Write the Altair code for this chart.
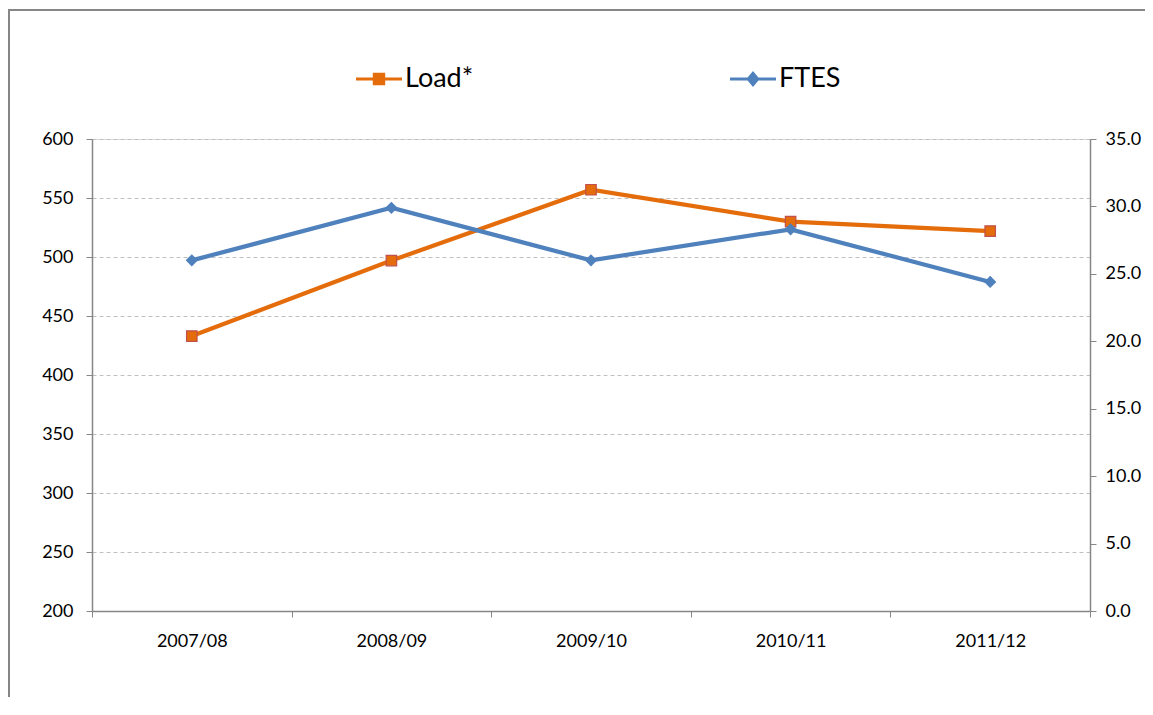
import altair as alt
import pandas as pd

years = ["2007/08", "2008/09", "2009/10", "2010/11", "2011/12"]
load_values = [433, 497, 557, 530, 522]
ftes_values = [26.0, 29.9, 26.0, 28.3, 24.4]
series_names = ["Load*", "FTES"]
series_colors = ["#E46C0A", "#4F81BD"]
left_ticks = [200, 250, 300, 350, 400, 450, 500, 550, 600]
right_ticks = [0, 5, 10, 15, 20, 25, 30, 35]

rows = []
for y, v in zip(years, load_values):
    rows.append({"year": y, "series": "Load*", "value": v})
for y, v in zip(years, ftes_values):
    rows.append({"year": y, "series": "FTES", "value": v})
df = pd.DataFrame(rows)

FONT = "Lato"
AXIS_GRAY = "#868686"

x_enc = alt.X(
    "year:N",
    sort=years,
    scale=alt.Scale(type="band", paddingInner=0, paddingOuter=0),
    axis=alt.Axis(
        title=None, labelAngle=0, tickBand="extent", tickSize=6,
        tickColor=AXIS_GRAY, domainColor=AXIS_GRAY, domainWidth=1.5,
        labelFont=FONT, labelFontSize=18, labelColor="black", labelPadding=15,
        grid=False,
    ),
)

p1 = "M-1,0L1,0M-0.2,-0.2L0.2,-0.2L0.2,0.2L-0.2,0.2Z"
p2 = "M-1,0L1,0M0,-0.24L0.2,0L0,0.24L-0.2,0Z"

legend = alt.Legend(
    orient="none", legendX=262, legendY=-85, direction="horizontal", title=None,
    symbolSize=2116, symbolStrokeWidth=3.2, labelFontSize=27, labelFont=FONT,
    labelOffset=1, columnPadding=249, labelColor="black", symbolOpacity=1,
    symbolType={"expr": "datum.value === 'Load*' ? '%s' : '%s'" % (p1, p2)},
    symbolFillColor={"expr": "datum.value === 'Load*' ? '#E46C0A' : '#4F81BD'"},
    symbolStrokeColor={"expr": "datum.value === 'Load*' ? '#E46C0A' : '#4F81BD'"},
)

color_enc = alt.Color(
    "series:N",
    scale=alt.Scale(domain=series_names, range=series_colors),
    legend=legend,
)

y_left = alt.Y(
    "value:Q",
    scale=alt.Scale(domain=[200, 600], nice=False, zero=False),
    axis=alt.Axis(
        title=None, values=left_ticks, orient="left", tickSize=6,
        tickColor=AXIS_GRAY, domainColor=AXIS_GRAY, domainWidth=1.5,
        labelFont=FONT, labelFontSize=18, labelColor="black", labelPadding=13,
        grid=True, gridColor="#C0C0C0", gridDash=[4, 3], gridWidth=1,
    ),
)
y_right = alt.Y(
    "value:Q",
    scale=alt.Scale(domain=[0, 35], nice=False, zero=True),
    axis=alt.Axis(
        title=None, values=right_ticks, orient="right", format=".1f", tickSize=6,
        tickColor=AXIS_GRAY, domainColor=AXIS_GRAY, domainWidth=1.5,
        labelFont=FONT, labelFontSize=18, labelColor="black", labelPadding=9,
        grid=False,
    ),
)

base = alt.Chart(df)
load_base = base.transform_filter(alt.datum.series == "Load*")
ftes_base = base.transform_filter(alt.datum.series == "FTES")

load_line = load_base.mark_line(strokeWidth=4.2).encode(x=x_enc, y=y_left, color=color_enc)
load_pts = load_base.mark_point(
    shape="square", filled=True, size=110, fill="#E46C0A", stroke="#C0504D",
    strokeWidth=1.2, opacity=1,
).encode(x=x_enc, y=y_left)
ftes_line = ftes_base.mark_line(strokeWidth=4.2).encode(x=x_enc, y=y_right, color=color_enc)
ftes_pts = ftes_base.mark_point(
    shape="diamond", filled=True, size=150, fill="#4F81BD", opacity=1,
).encode(x=x_enc, y=y_right)

load_layer = alt.layer(load_line, load_pts)
ftes_layer = alt.layer(ftes_line, ftes_pts)

border_df = pd.DataFrame({"k": [0]})
border = alt.Chart(border_df).mark_rect(
    fill="white", fillOpacity=0, stroke=AXIS_GRAY, strokeWidth=2
).encode(
    x=alt.value(-83), x2=alt.value(1300), y=alt.value(-129), y2=alt.value(800)
)

chart = alt.layer(border, load_layer, ftes_layer).resolve_scale(
    y="independent"
).properties(
    width=998, height=472,
    autosize=alt.AutoSizeParams(type="none"),
    padding={"left": 84, "top": 131, "right": 55, "bottom": 86},
).configure_view(stroke=None).configure(background="white")

chart.save("out.html", embed_options={"renderer": "svg", "actions": False})
